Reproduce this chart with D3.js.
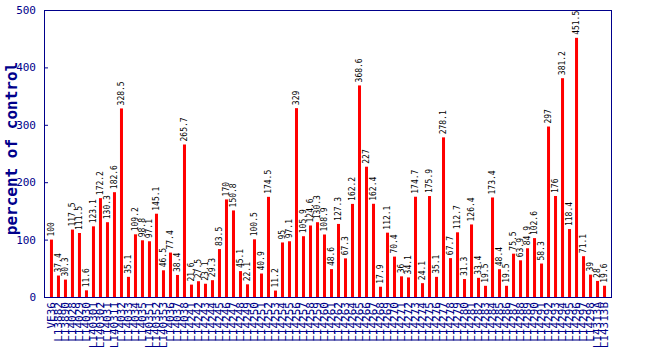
<!DOCTYPE html>
<html>
<head>
<meta charset="utf-8">
<script src="https://cdn.jsdelivr.net/npm/d3@7"></script>
<style>
  body { margin: 0; background: #fff; }
  svg { display: block; }
</style>
</head>
<body>
<svg id="chart" width="650" height="350"></svg>
<script>
// Line identifiers along the x axis
const categories = [
  "VE36", "L13882", "L13890", "L14028", "L14029", "L14030", "L140301", "L140302",
  "L14031", "L140311", "L14032", "L14033", "L14034", "L14035", "L140351", "L140352",
  "L140353", "L14036", "L14037", "L14038", "L14241", "L14242", "L14243", "L14244",
  "L14245", "L14246", "L14247", "L14248", "L14249", "L14250", "L14251", "L14252",
  "L14253", "L14254", "L14255", "L14256", "L14257", "L14258", "L14259", "L14260",
  "L14261", "L14262", "L14263", "L14264", "L14265", "L14266", "L14267", "L14268",
  "L14269", "L14270", "L14271", "L14272", "L14273", "L14274", "L14275", "L14276",
  "L14277", "L14278", "L14279", "L14280", "L14281", "L14282", "L14283", "L14284",
  "L14285", "L14286", "L14287", "L14288", "L14289", "L14290", "L14291", "L14292",
  "L14293", "L14294", "L14295", "L14296", "L14297", "L14298", "L14313A", "L14313B"
];

// Response of each line, percent of control
const values = [
  100, 37.4, 30.3, 117.5, 111.5, 11.6, 123.1, 172.2,
  130.3, 182.6, 328.5, 35.1, 109.2, 98.8, 97.1, 145.1,
  46.5, 77.4, 38.4, 265.7, 21.6, 27.5, 23.1, 29.3,
  83.5, 170, 150.8, 45.1, 22.1, 100.5, 40.9, 174.5,
  11.2, 95, 97.1, 329, 105.9, 124.6, 130.3, 108.9,
  48.6, 127.3, 67.3, 162.2, 368.6, 227, 162.4, 17.9,
  112.1, 70.4, 36, 34.1, 174.7, 24.1, 175.9, 35.1,
  278.1, 67.7, 112.7, 31.3, 126.4, 33.4, 19.5, 173.4,
  48.4, 19.5, 75.5, 63.9, 84.9, 102.6, 58.3, 297,
  176, 381.2, 118.4, 451.5, 71.1, 39, 28, 19.6
];

const yTicks = [0, 100, 200, 300, 400, 500];
const yTitle = "percent of control";

const navy = "#00008b";
const frame = { left: 44, right: 611, top: 10, bottom: 297 };

const svg = d3.select("#chart");

const x = d3.scaleBand()
  .domain(categories)
  .range([frame.left + 4, frame.right - 3])
  .paddingInner(0.57)
  .paddingOuter(0.28);

const y = d3.scaleLinear()
  .domain([0, 500])
  .range([frame.bottom, frame.top]);

// Bars
svg.append("g")
  .selectAll("rect")
  .data(values)
  .join("rect")
  .attr("x", (d, i) => x(categories[i]))
  .attr("y", d => y(d))
  .attr("width", x.bandwidth())
  .attr("height", d => y(0) - y(d))
  .attr("fill", "#ff0000");

// Value labels above bars
svg.append("g")
  .selectAll("text")
  .data(values)
  .join("text")
  .attr("transform", (d, i) =>
    `translate(${x(categories[i]) + x.bandwidth() / 2},${y(d) - 3}) rotate(-90)`)
  .attr("dy", "0.35em")
  .attr("text-anchor", "start")
  .attr("font-family", "DejaVu Sans Mono, monospace")
  .attr("font-size", 8)
  .attr("fill", "#000")
  .text(d => d);

// Y axis
const yAxis = svg.append("g")
  .attr("transform", `translate(${frame.left},0)`)
  .call(d3.axisLeft(y).tickValues(yTicks).tickSize(-4).tickPadding(8));
yAxis.select(".domain").remove();
yAxis.selectAll("line").attr("stroke", navy);
yAxis.selectAll("text")
  .attr("font-family", "DejaVu Sans Mono, monospace")
  .attr("font-size", 11)
  .attr("fill", navy);

// X axis labels
const xAxis = svg.append("g")
  .attr("transform", `translate(0,${frame.bottom})`)
  .call(d3.axisBottom(x).tickSize(0));
xAxis.select(".domain").remove();
xAxis.selectAll("text")
  .attr("transform", "translate(0,5) rotate(-90)")
  .attr("x", 0)
  .attr("y", 0)
  .attr("dy", "0.35em")
  .attr("text-anchor", "end")
  .attr("font-family", "DejaVu Sans Mono, monospace")
  .attr("font-size", 11)
  .attr("fill", navy);

// Plot frame
svg.append("rect")
  .attr("x", frame.left + 0.5)
  .attr("y", frame.top + 0.5)
  .attr("width", frame.right - frame.left)
  .attr("height", frame.bottom - frame.top)
  .attr("fill", "none")
  .attr("stroke", navy)
  .attr("stroke-width", 1);

// Y axis title
svg.append("text")
  .attr("transform", `translate(11,${(frame.top + frame.bottom) / 2 - 5}) rotate(-90)`)
  .attr("dy", "0.35em")
  .attr("text-anchor", "middle")
  .attr("font-family", "DejaVu Sans Mono, monospace")
  .attr("font-size", 16)
  .attr("font-weight", "bold")
  .attr("fill", navy)
  .text(yTitle);
</script>
</body>
</html>
